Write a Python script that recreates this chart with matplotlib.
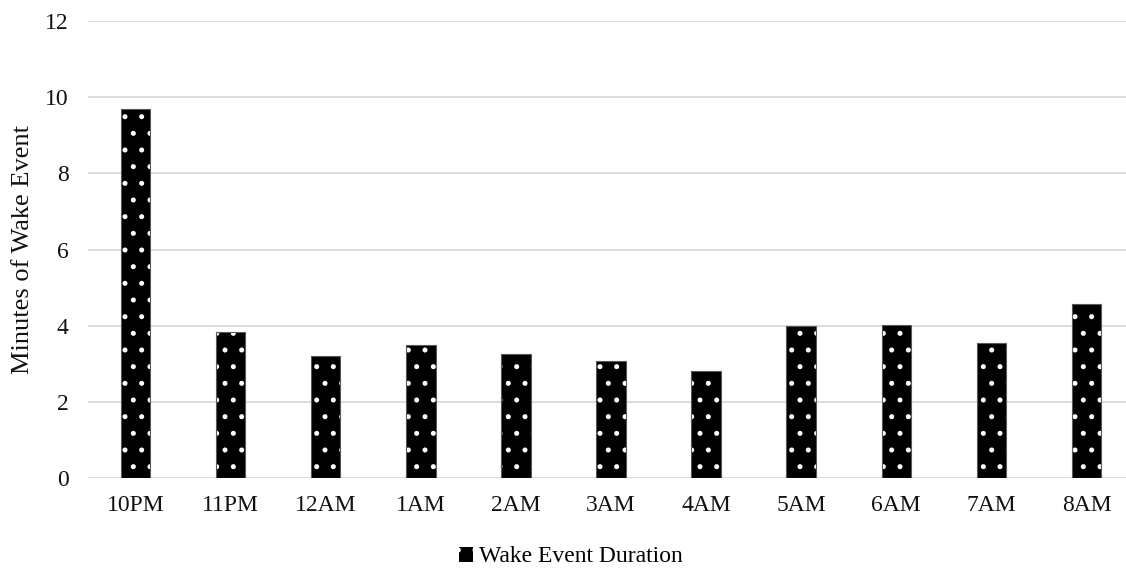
import matplotlib
matplotlib.use('Agg')
import matplotlib.pyplot as plt
from matplotlib.patches import Patch

# hourly wake event durations
hours = ['10PM', '11PM', '12AM', '1AM', '2AM', '3AM', '4AM', '5AM', '6AM', '7AM', '8AM']
minutes = [9.68, 3.84, 3.21, 3.49, 3.26, 3.08, 2.81, 4.00, 4.03, 3.55, 4.57]
series_name = 'Wake Event Duration'

plt.rcParams['font.family'] = ['Liberation Serif', 'DejaVu Serif']
plt.rcParams['hatch.linewidth'] = 1.2

fig = plt.figure(figsize=(11.26, 5.73), dpi=100)
ax = fig.add_axes([88 / 1126, 95 / 573, 1046 / 1126, 457 / 573])

x = range(len(hours))
# dotted fill: white hatch on black
ax.bar(x, minutes, width=0.31, color='black', edgecolor='white', hatch='.',
       linewidth=0, zorder=3)
ax.bar(x, minutes, width=0.31, fill=False, edgecolor='#595959', linewidth=0.8,
       zorder=4)

ax.set_xlim(-0.5, len(hours) - 0.5)
ax.set_ylim(0, 12)
ax.set_yticks(range(0, 13, 2))
ax.set_xticks(list(x))
ax.set_xticklabels(hours)
ax.grid(axis='y', color='#d9d9d9', linewidth=1.3, zorder=0)
for s in ax.spines.values():
    s.set_visible(False)
ax.tick_params(length=0, labelsize=17, colors='#111111')
ax.tick_params(axis='x', pad=12)
ax.tick_params(axis='y', pad=14)
ax.set_ylabel('Minutes of Wake Event', fontsize=19, color='#111111')
ax.yaxis.set_label_coords(-54 / 1046, 0.5)

handle = Patch(facecolor='black', edgecolor='white', hatch='.', linewidth=0)
fig.legend([handle], [series_name], loc='center', bbox_to_anchor=(571 / 1126, 1 - 557 / 573),
           frameon=False, fontsize=17, handlelength=0.6, handleheight=0.6,
           handletextpad=0.25, borderpad=0)

fig.savefig('out.png', dpi=100)
